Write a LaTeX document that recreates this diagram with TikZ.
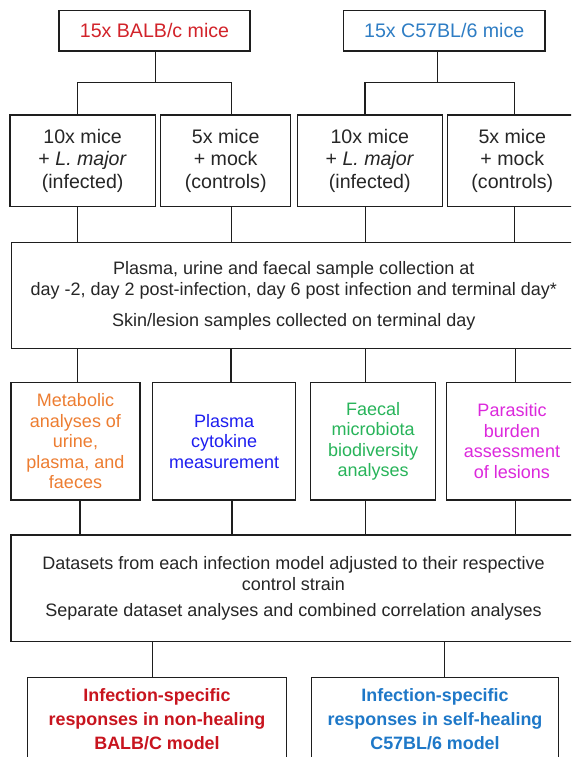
\documentclass[tikz,border=0pt]{standalone}
\usepackage{fontspec}
\setmainfont{Liberation Sans}
\definecolor{cRed}{RGB}{210,35,42}
\definecolor{cBlue}{RGB}{46,125,196}
\definecolor{cOrange}{RGB}{237,125,49}
\definecolor{cPBlue}{RGB}{30,30,240}
\definecolor{cGreen}{RGB}{40,180,90}
\definecolor{cMag}{RGB}{220,40,220}
\definecolor{cBRed}{RGB}{200,20,30}
\definecolor{cBBlue}{RGB}{30,120,200}
\definecolor{cLine}{RGB}{30,30,30}
\begin{document}
\begin{tikzpicture}[x=1pt,y=-1pt,
  box/.style={draw=cLine, line width=1.3pt, rectangle, inner sep=0pt, align=center, text=black!85},
  big/.style={box, font=\fontsize{19.6}{22.5}\selectfont},
  mid/.style={box, font=\fontsize{18}{20.6}\selectfont},
  wide/.style={box, font=\fontsize{18}{21}\selectfont},
  res/.style={box, font=\fontsize{17.9}{24}\selectfont\bfseries},
  conn/.style={draw=cLine, line width=1.3pt}]
\useasboundingbox (0,0) rectangle (571,757);
\clip (0,0) rectangle (571,757);
\fill[white] (0,0) rectangle (571,757);
% top boxes
\node[big, text=cRed, minimum width=191pt, minimum height=40.3pt] (top1) at (154.5,30.9) {15x BALB/c mice};
\node[big, text=cBlue, minimum width=201.7pt, minimum height=40.3pt] (top2) at (444.2,30.9) {15x C57BL/6 mice};
% row 2
\node[big, minimum width=145.3pt, minimum height=91.7pt] (r2a) at (82.65,160.85) {10x mice\\+ \textit{L. major}\\(infected)};
\node[big, minimum width=130pt, minimum height=91.7pt] (r2b) at (225.7,160.85) {5x mice\\+ mock\\(controls)};
\node[big, minimum width=145pt, minimum height=91.7pt] (r2c) at (369.8,160.85) {10x mice\\+ \textit{L. major}\\(infected)};
\node[big, minimum width=130pt, minimum height=91.7pt] (r2d) at (512.3,160.85) {5x mice\\+ mock\\(controls)};
% big box 1
\node[wide, minimum width=564.5pt, minimum height=105.8pt] (big1) at (293.75,295.4) {Plasma, urine and faecal sample collection at\\day -2, day 2 post-infection, day 6 post infection and terminal day*\\[10pt]Skin/lesion samples collected on terminal day};
% row 3
\node[mid, text=cOrange, minimum width=129pt, minimum height=117.5pt] (r3a) at (75.5,441.25) {Metabolic\\analyses of\\urine,\\plasma, and\\faeces};
\node[mid, text=cPBlue, minimum width=143pt, minimum height=117.5pt] (r3b) at (224.2,441.25) {Plasma\\cytokine\\measurement};
\node[mid, text=cGreen, minimum width=125pt, minimum height=117.5pt] (r3c) at (373.2,441.25) {Faecal\\microbiota\\biodiversity\\analyses};
\node[mid, text=cMag, minimum width=130.6pt, minimum height=117.5pt] (r3d) at (512,441.25) {Parasitic\\burden\\assessment\\of lesions};
% big box 2
\node[wide, minimum width=565pt, minimum height=106.7pt] (big2) at (293.5,588.35) {Datasets from each infection model adjusted to their respective\\control strain\\[5pt]Separate dataset analyses and combined correlation analyses};
% bottom boxes
\node[res, text=cBRed, minimum width=259.4pt, minimum height=83.4pt] (bL) at (157,719) {Infection-specific\\responses in non-healing\\BALB/C model};
\node[res, text=cBBlue, minimum width=246.6pt, minimum height=83.4pt] (bR) at (435,719) {Infection-specific\\responses in self-healing\\C57BL/6 model};
% tree connectors
\coordinate (j1) at ([xshift=0.8pt,yshift=-31pt]top1.south);
\coordinate (j2) at ([xshift=-6.9pt,yshift=-31pt]top2.south);
\draw[conn] ([xshift=0.8pt]top1.south) -- (j1);
\draw[conn] ([xshift=-6.9pt]top2.south) -- (j2);
\draw[conn] ([xshift=-5.35pt]r2a.north) |- (j1) -| ([xshift=6pt]r2b.north);
\draw[conn] ([xshift=-4.8pt]r2c.north) |- (j2) -| ([xshift=2pt]r2d.north);
% row2 -> big1
\draw[conn] ([xshift=-5.15pt]r2a.south) -- ([xshift=-5.15pt]r2a.south |- big1.north);
\draw[conn] ([xshift=6pt]r2b.south) -- ([xshift=6pt]r2b.south |- big1.north);
\draw[conn] ([xshift=-4.1pt]r2c.south) -- ([xshift=-4.1pt]r2c.south |- big1.north);
\draw[conn] ([xshift=2.2pt]r2d.south) -- ([xshift=2.2pt]r2d.south |- big1.north);
% big1 -> row3
\draw[conn] ([xshift=2.2pt]r3a.north |- big1.south) -- ([xshift=2.2pt]r3a.north);
\draw[conn] ([xshift=6.8pt]r3b.north |- big1.south) -- ([xshift=6.8pt]r3b.north);
\draw[conn] ([xshift=-7.5pt]r3c.north |- big1.south) -- ([xshift=-7.5pt]r3c.north);
\draw[conn] ([xshift=3.5pt]r3d.north |- big1.south) -- ([xshift=3.5pt]r3d.north);
% row3 -> big2
\draw[conn] ([xshift=4.5pt]r3a.south) -- ([xshift=4.5pt]r3a.south |- big2.north);
\draw[conn] ([xshift=7.8pt]r3b.south) -- ([xshift=7.8pt]r3b.south |- big2.north);
\draw[conn] ([xshift=-7.5pt]r3c.south) -- ([xshift=-7.5pt]r3c.south |- big2.north);
\draw[conn] ([xshift=3.7pt]r3d.south) -- ([xshift=3.7pt]r3d.south |- big2.north);
% big2 -> results
\draw[conn] ([xshift=-4.3pt]bL.north |- big2.south) -- ([xshift=-4.3pt]bL.north);
\draw[conn] ([xshift=9.3pt]bR.north |- big2.south) -- ([xshift=9.3pt]bR.north);
\end{tikzpicture}
\end{document}
